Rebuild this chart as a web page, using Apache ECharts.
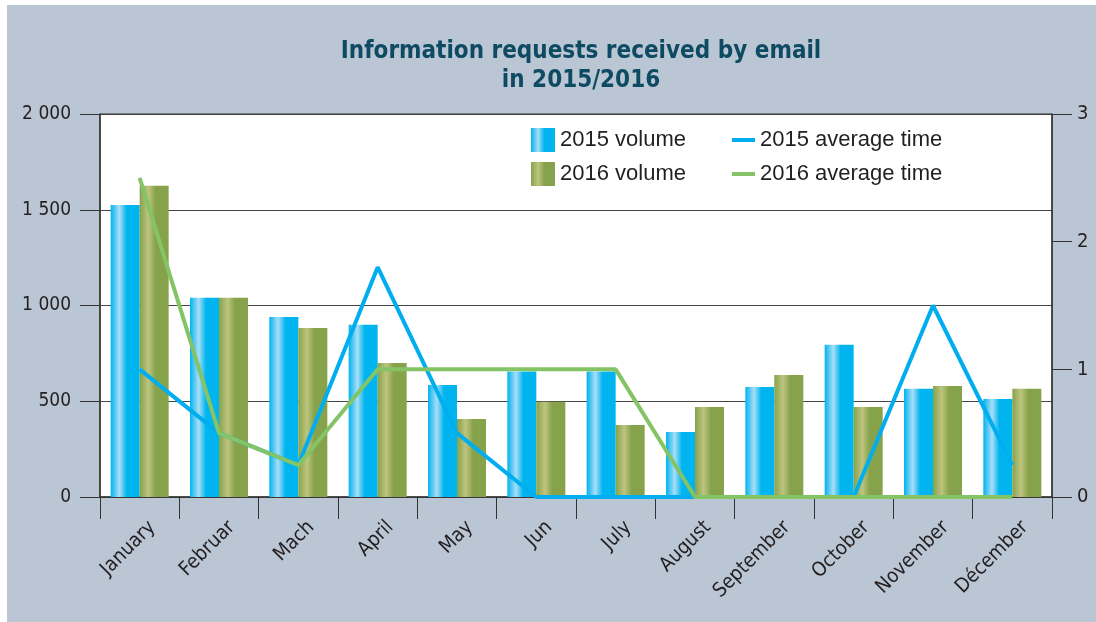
<!DOCTYPE html>
<html>
<head>
  <meta charset="utf-8">
  <title>Information requests received by email</title>
  <style>
    html, body { margin: 0; padding: 0; background: #fff; }
    #chart { width: 1096px; height: 622px; }
  </style>
</head>
<body>
  <div id="chart"></div>
  <script src="https://cdn.jsdelivr.net/npm/echarts@6/dist/echarts.min.js"></script>
  <script>
    // months
    var months = ['January', 'Februar', 'Mach', 'April', 'May', 'Jun', 'July',
      'August', 'September', 'October', 'November', 'Décember'];

    // volumes (left axis)
    var volume2015 = [1525, 1040, 940, 900, 585, 655, 655, 340, 575, 795, 565, 512];
    var volume2016 = [1625, 1040, 883, 700, 407, 498, 376, 470, 637, 470, 580, 565];

    // average time (right axis)
    var time2015 = [1, 0.5, 0.25, 1.8, 0.5, 0, 0, 0, 0, 0, 1.5, 0.25];
    var time2016 = [2.5, 0.5, 0.25, 1, 1, 1, 1, 0, 0, 0, 0, 0];

    var leftTicks = ['0', '500', '1 000', '1 500', '2 000'];

    var narrow = "'DejaVu Sans Condensed', 'Liberation Sans Narrow', sans-serif";
    var axisText = { color: '#231F20', fontFamily: narrow, fontSize: 19 };
    var legendText = {
      color: '#231F20', fontSize: 22, lineHeight: 24,
      fontFamily: "'Liberation Sans', Arial, sans-serif"
    };

    function barGrad(edge, light, dark) {
      return new echarts.graphic.LinearGradient(0, 0, 1, 0, [
        { offset: 0, color: edge },
        { offset: 0.3, color: light },
        { offset: 0.55, color: dark },
        { offset: 1, color: dark }
      ]);
    }

    var chart = echarts.init(document.getElementById('chart'));
    chart.setOption({
      backgroundColor: '#fff',
      animation: false,
      graphic: [{
        type: 'rect', z: -100, silent: true,
        shape: { x: 7, y: 5, width: 1089, height: 617 },
        style: { fill: '#BAC6D4' }
      }],
      title: {
        text: 'Information requests received by email\nin 2015/2016',
        left: 576, textAlign: 'center', top: 32,
        textStyle: {
          fontFamily: narrow, fontWeight: 'bold', fontSize: 24,
          lineHeight: 29, color: '#0E4B63'
        }
      },
      legend: [{
        data: ['2015 volume', '2016 volume'],
        orient: 'vertical', left: 531, top: 128,
        icon: 'rect', itemWidth: 24, itemHeight: 24, itemGap: 10,
        padding: 0,
        textStyle: legendText
      }, {
        data: ['2015 average time', '2016 average time'],
        orient: 'vertical', left: 732, top: 128,
        icon: 'rect', itemWidth: 23, itemHeight: 4, itemGap: 10,
        padding: 0,
        textStyle: legendText
      }],
      grid: {
        left: 100, right: 44, top: 114, bottom: 125,
        show: true, backgroundColor: '#fff', borderColor: '#333', borderWidth: 1
      },
      xAxis: {
        type: 'category',
        data: months,
        axisLine: { lineStyle: { color: '#333', width: 1.5 } },
        axisTick: { show: true, interval: 0, length: 22, lineStyle: { color: '#333' } },
        axisLabel: Object.assign({
          interval: 0, rotate: 45, margin: 40,
          padding: [0, -18, 0, 0]
        }, axisText, { fontSize: 20 })
      },
      yAxis: [{
        type: 'value', min: 0, max: 2000, interval: 500,
        axisLine: { show: true, lineStyle: { color: '#333', width: 1.5 } },
        axisTick: { show: true, length: 20, lineStyle: { color: '#333' } },
        splitLine: { lineStyle: { color: '#444', width: 1 } },
        axisLabel: Object.assign({
          margin: 29,
          formatter: function (v, i) { return leftTicks[i]; }
        }, axisText)
      }, {
        type: 'value', min: 0, max: 3, interval: 1, position: 'right',
        axisLine: { show: true, lineStyle: { color: '#333', width: 1.5 } },
        axisTick: { show: true, length: 20, lineStyle: { color: '#333' } },
        splitLine: { show: false },
        axisLabel: Object.assign({ margin: 25 }, axisText, { fontSize: 20 })
      }],
      series: [{
        name: '2015 volume', type: 'bar', data: volume2015,
        barWidth: 29, barGap: '0%',
        itemStyle: { color: barGrad('#00B3EF', '#A9DEF7', '#00B5EF') }
      }, {
        name: '2016 volume', type: 'bar', data: volume2016,
        barWidth: 29, barGap: '0%',
        itemStyle: { color: barGrad('#87A34A', '#BEC480', '#86A34B') }
      }, {
        name: '2015 average time', type: 'line', yAxisIndex: 1, data: time2015,
        symbol: 'none', clip: false, z: 5,
        itemStyle: { color: '#00AEEF' },
        lineStyle: { color: '#00AEEF', width: 4 }
      }, {
        name: '2016 average time', type: 'line', yAxisIndex: 1, data: time2016,
        symbol: 'none', clip: false, z: 6,
        itemStyle: { color: '#84C466' },
        lineStyle: { color: '#84C466', width: 4 }
      }]
    });
  </script>
</body>
</html>
